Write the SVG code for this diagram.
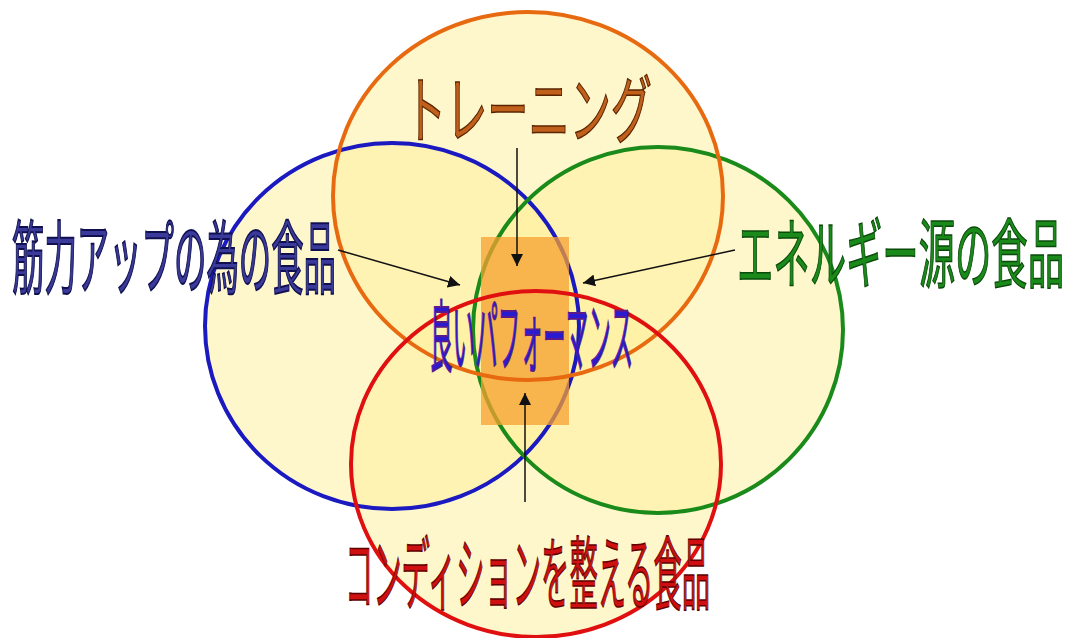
<svg xmlns="http://www.w3.org/2000/svg" width="1071" height="638" viewBox="0 0 1071 638">
<defs>
<style>
.f{fill:#fff09a;fill-opacity:0.5;stroke:none}
.s{fill:none;stroke-width:4}
.t{font-family:"Noto Sans CJK JP","Noto Sans",sans-serif;font-weight:normal}
.ln{stroke:#111;stroke-width:1.5;fill:none;marker-end:url(#ah)}
</style>
<marker id="ah" viewBox="0 0 10 10" refX="10" refY="5" markerWidth="12" markerHeight="12" markerUnits="userSpaceOnUse" orient="auto">
<path d="M0,0 L10,5 L0,10 z" fill="#111"/>
</marker>
</defs>
<rect width="1071" height="638" fill="#ffffff"/>
<g id="circle-blue">
<ellipse class="f" cx="392" cy="326" rx="187" ry="183"/>
</g>
<g id="circle-green">
<ellipse class="f" cx="658" cy="330" rx="185" ry="183"/>
</g>
<g id="circle-orange">
<ellipse class="f" cx="528" cy="196" rx="195" ry="184"/>
</g>
<g id="circle-red">
<ellipse class="f" cx="536" cy="464" rx="185" ry="173"/>
</g>
<g id="circle-outlines-back">
<ellipse class="s" cx="392" cy="326" rx="187" ry="183" stroke="#1a1ac0"/>
<ellipse class="s" cx="658" cy="330" rx="185" ry="183" stroke="#1a8a1a"/>
</g>
<g id="center-box"><rect x="481" y="237" width="88" height="188" fill="#f5a030" fill-opacity="0.75"/></g>
<g id="circle-outlines-front">
<ellipse class="s" cx="528" cy="196" rx="195" ry="184" stroke="#e86a10"/>
<ellipse class="s" cx="536" cy="464" rx="185" ry="173" stroke="#e01010"/>
</g>
<g id="connectors">
<line class="ln" x1="517" y1="148" x2="517" y2="266"/>
<line class="ln" x1="338" y1="250" x2="460" y2="285"/>
<line class="ln" x1="735" y1="250" x2="583" y2="283"/>
<line class="ln" x1="525" y1="502" x2="525" y2="393"/>
</g>
<g id="label-training"><text class="t" x="405" y="137" font-size="74" textLength="247" lengthAdjust="spacingAndGlyphs" fill="#c0601a" stroke="#5a2400" stroke-width="1.5">トレーニング</text></g>
<g id="label-muscle"><text class="t" x="12" y="287" font-size="80" textLength="324" lengthAdjust="spacingAndGlyphs" fill="#3a3a9a" stroke="#101050" stroke-width="2">筋力アップの為の食品</text></g>
<g id="label-energy"><text class="t" x="737" y="282" font-size="76" textLength="327" lengthAdjust="spacingAndGlyphs" fill="#1a8a1a" stroke="#0a4a0a" stroke-width="1.5">エネルギー源の食品</text></g>
<g id="label-performance"><text class="t" x="430" y="366" font-size="78" textLength="203" lengthAdjust="spacingAndGlyphs" fill="#2a1ad0" stroke="#5a1a8a" stroke-width="1.8">良いパフォーマンス</text></g>
<g id="label-condition"><text class="t" x="345" y="603" font-size="80" textLength="365" lengthAdjust="spacingAndGlyphs" fill="#d01010" stroke="#600000" stroke-width="1.5">コンディションを整える食品</text></g>
</svg>
